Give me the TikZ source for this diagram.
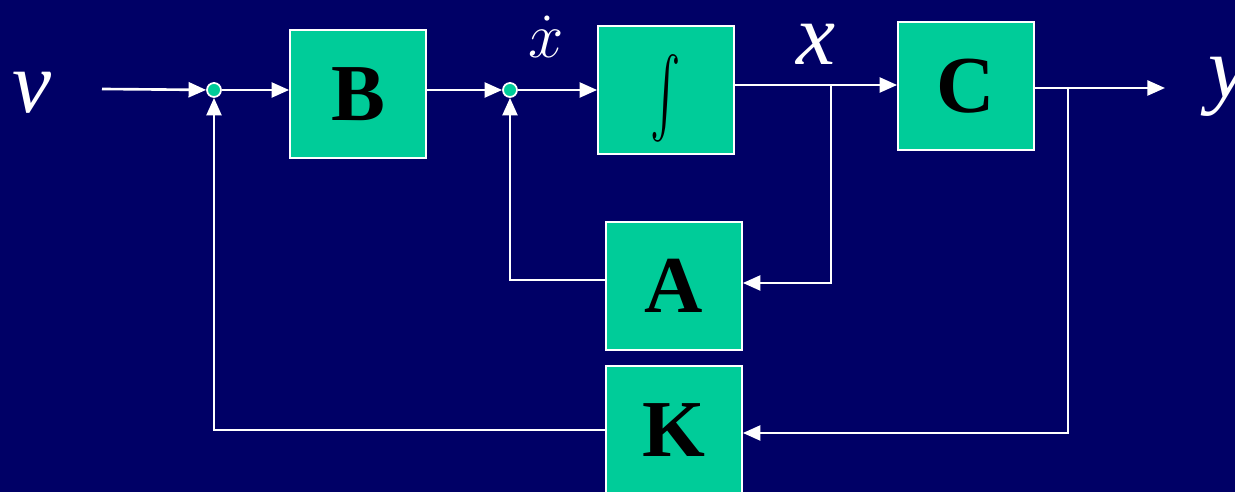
\RequirePackage{fix-cm}
\documentclass[tikz,border=0pt]{standalone}
\usepackage{amsmath}
\usepackage{fontspec}
\setmainfont{Liberation Serif}
\usetikzlibrary{arrows.meta,positioning,calc}
\definecolor{slideblue}{HTML}{000066}
\definecolor{blockgreen}{HTML}{00CC99}

\begin{document}
\begin{tikzpicture}[x=0.02cm,y=-0.02cm,
  blk/.style={draw=white,line width=1pt,fill=blockgreen,minimum width=2.72cm,minimum height=2.56cm,inner sep=0pt,font=\fontsize{46}{50}\selectfont\bfseries},
  sumpt/.style={circle,draw=white,line width=1pt,fill=blockgreen,minimum size=0.28cm,inner sep=0pt},
  sig/.style={draw=white,line width=1.5pt},
  arr/.style={sig,-{Triangle[length=10pt,width=8.5pt]}},
  lbl/.style={text=white,inner sep=0pt,font=\fontsize{50}{56}\selectfont\itshape}]
\fill[slideblue] (0,0) rectangle (1235,492);
\clip (0,0) rectangle (1235,492);
% blocks
\node[blk] (B) at (358,94) {B};
\node[blk] (I) at (666,90) {\normalsize\raisebox{-0.16cm}[\height][\depth]{\scalebox{2.6}[4.5]{$\int$}}};
\node[blk] (C) at (966,86) {C};
\node[blk] (A) at (674,286) {A};
\node[blk] (K) at (674,430) {K};
% summing points
\node[sumpt] (s1) at (214,90) {};
\node[sumpt] (s2) at (510,90) {};
% signal labels
\node[lbl] (v) at (32,93) {v};
\node[lbl] (x) at (816,44) {x};
\node[lbl] (y) at (1228,87) {y};
\node[text=white,inner sep=0pt,font=\fontsize{36}{40}\selectfont] (xd) at (546,37) {$\dot{x}$};
% branch points
\coordinate (vin) at (102,89);
\coordinate (xb) at (831,85);
\coordinate (yb) at (1068,88);
\coordinate (yout) at (1165,88);
% forward path
\draw[arr] (vin) -- (s1);
\draw[arr] (s1) -- (B.west |- s1);
\draw[arr] (B.east |- s2) -- (s2);
\draw[arr] (s2) -- (I.west |- s2);
\draw[arr] (I.east |- xb) -- (C.west |- xb);
\draw[arr] (C.east |- yout) -- (yout);
% feedback
\draw[arr] (xb) |- ($(A.east)+(0,-3)$);
\draw[arr] ($(A.west)+(0,-6)$) -| (s2);
\draw[arr] (yb) |- ($(K.east)+(0,3)$);
\draw[arr] (K.west) -| (s1);
\end{tikzpicture}
\end{document}
